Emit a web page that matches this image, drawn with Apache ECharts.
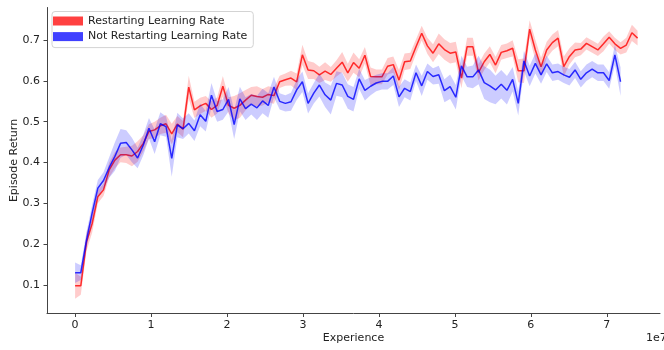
<!DOCTYPE html>
<html><head><meta charset="utf-8">
<script src="https://cdn.jsdelivr.net/npm/echarts@6/dist/echarts.min.js"></script>
<style>html,body{margin:0;padding:0;background:#fff}#c{width:664px;height:350px}</style>
</head><body><div id="c"></div>
<script>
// Experience (units of 1e7)
const experience = [0,0.075,0.150,0.224,0.299,0.374,0.449,0.524,0.598,0.673,
0.748,0.823,0.898,0.972,1.047,1.122,1.197,1.272,1.346,1.421,
1.496,1.571,1.646,1.720,1.795,1.870,1.945,2.020,2.094,2.169,
2.244,2.319,2.394,2.468,2.543,2.618,2.693,2.768,2.842,2.917,
2.992,3.067,3.142,3.216,3.291,3.366,3.441,3.516,3.590,3.665,
3.740,3.815,3.890,3.964,4.039,4.114,4.189,4.264,4.338,4.413,
4.488,4.563,4.638,4.712,4.787,4.862,4.937,5.012,5.086,5.161,
5.236,5.311,5.386,5.460,5.535,5.610,5.685,5.760,5.834,5.909,
5.984,6.059,6.134,6.208,6.283,6.358,6.433,6.508,6.582,6.657,
6.732,6.807,6.882,6.956,7.031,7.106,7.181,7.256,7.330,7.405];

const restartMean = [0.098,0.098,0.205,0.250,0.316,0.333,0.382,0.406,0.419,0.419,
0.416,0.427,0.447,0.476,0.480,0.490,0.495,0.470,0.494,0.482,
0.585,0.529,0.539,0.545,0.530,0.540,0.587,0.540,0.533,0.540,
0.553,0.565,0.562,0.560,0.567,0.564,0.598,0.603,0.607,0.598,
0.664,0.627,0.625,0.615,0.624,0.616,0.631,0.646,0.620,0.645,
0.631,0.663,0.611,0.610,0.610,0.636,0.640,0.602,0.647,0.649,
0.684,0.717,0.686,0.668,0.691,0.677,0.668,0.671,0.607,0.684,
0.684,0.621,0.647,0.665,0.639,0.670,0.674,0.680,0.625,0.625,
0.727,0.676,0.635,0.676,0.694,0.705,0.635,0.660,0.676,0.678,
0.692,0.684,0.676,0.691,0.707,0.691,0.680,0.688,0.718,0.705];

const restartHalf = [0.032,0.022,0.022,0.022,0.016,0.015,0.018,0.020,0.018,0.020,
0.025,0.025,0.020,0.018,0.020,0.020,0.022,0.025,0.020,0.020,
0.028,0.020,0.020,0.018,0.020,0.020,0.025,0.020,0.030,0.030,
0.025,0.020,0.025,0.020,0.020,0.020,0.015,0.015,0.018,0.020,
0.025,0.022,0.020,0.020,0.022,0.018,0.020,0.025,0.022,0.025,
0.022,0.020,0.022,0.018,0.018,0.020,0.020,0.025,0.020,0.020,
0.018,0.018,0.020,0.022,0.025,0.025,0.025,0.025,0.025,0.022,
0.022,0.020,0.020,0.020,0.020,0.018,0.018,0.020,0.028,0.030,
0.022,0.025,0.022,0.020,0.020,0.020,0.025,0.020,0.018,0.015,
0.015,0.015,0.015,0.018,0.015,0.015,0.015,0.018,0.020,0.018];

const noRestartMean = [0.130,0.130,0.210,0.276,0.337,0.356,0.388,0.415,0.447,0.449,
0.431,0.411,0.443,0.484,0.451,0.495,0.488,0.410,0.492,0.483,
0.496,0.478,0.517,0.501,0.565,0.525,0.530,0.555,0.493,0.556,
0.532,0.543,0.534,0.551,0.540,0.585,0.550,0.545,0.549,0.578,
0.598,0.545,0.570,0.590,0.566,0.553,0.594,0.590,0.562,0.555,
0.605,0.577,0.587,0.595,0.599,0.599,0.612,0.561,0.582,0.574,
0.620,0.588,0.623,0.611,0.615,0.576,0.586,0.560,0.637,0.610,
0.610,0.627,0.596,0.588,0.578,0.592,0.577,0.604,0.545,0.649,
0.612,0.643,0.615,0.642,0.620,0.623,0.615,0.609,0.627,0.604,
0.620,0.629,0.620,0.620,0.601,0.664,0.598];

const noRestartHalf = [0.025,0.018,0.020,0.020,0.020,0.020,0.025,0.035,0.035,0.030,
0.030,0.025,0.025,0.025,0.030,0.028,0.025,0.045,0.030,0.025,
0.025,0.025,0.028,0.025,0.030,0.025,0.025,0.030,0.035,0.030,
0.028,0.025,0.030,0.030,0.030,0.025,0.020,0.020,0.022,0.025,
0.025,0.025,0.025,0.028,0.030,0.035,0.030,0.030,0.030,0.030,
0.025,0.025,0.022,0.020,0.020,0.020,0.022,0.025,0.022,0.022,
0.020,0.025,0.020,0.020,0.022,0.028,0.030,0.030,0.025,0.025,
0.028,0.035,0.040,0.040,0.035,0.035,0.035,0.030,0.030,0.025,
0.025,0.025,0.022,0.020,0.020,0.020,0.020,0.020,0.020,0.020,
0.020,0.020,0.020,0.020,0.020,0.025,0.035];

const xTicks = [0,1,2,3,4,5,6,7];
const yTicks = [0.1,0.2,0.3,0.4,0.5,0.6,0.7];
const seriesNames = ['Restarting Learning Rate','Not Restarting Learning Rate'];

const FONT = 'DejaVu Sans';
function pairs(xs, ys){ return ys.map((v,i)=>[xs[i], v]); }
function band(name, xs, mean, half, fill, z){
  return {
    type:'custom', name:name, silent:true, z:z, animation:false,
    data:[[xs[0], mean[0]]],
    renderItem:function(params, api){
      const pts=[];
      for(let i=0;i<mean.length;i++) pts.push(api.coord([xs[i], mean[i]+half[i]]));
      for(let i=mean.length-1;i>=0;i--) pts.push(api.coord([xs[i], mean[i]-half[i]]));
      return {type:'polygon', shape:{points:pts}, style:{fill:fill}};
    }
  };
}

const chart = echarts.init(document.getElementById('c'), null, {renderer:'canvas'});
chart.setOption({
  animation:false,
  backgroundColor:'#fff',
  grid:{left:47, top:7.5, width:613, height:306, containLabel:false, outerBoundsMode:'none'},
  legend:{
    orient:'vertical', left:52, top:11.5, icon:'rect', itemWidth:30, itemHeight:9, itemGap:2.6,
    padding:[3,6,4.5,1], backgroundColor:'#fff', borderColor:'#d3d3d3', borderWidth:1, borderRadius:3,
    textStyle:{fontFamily:FONT, fontSize:11, color:'#222', lineHeight:13},
    data:seriesNames
  },
  xAxis:{
    type:'value', min:-0.37, max:7.7,
    name:'Experience', nameLocation:'middle', nameGap:19, nameMoveOverlap:false,
    nameTextStyle:{fontFamily:FONT, fontSize:11, color:'#222'},
    axisLine:{show:true, onZero:false, lineStyle:{color:'#444', width:1}},
    axisTick:{show:true, length:3.5, customValues:xTicks, lineStyle:{color:'#444'}},
    axisLabel:{customValues:xTicks, margin:6, fontFamily:FONT, fontSize:11, color:'#222', formatter:v=>String(v)},
    splitLine:{show:false}
  },
  yAxis:{
    type:'value', min:0.03, max:0.78,
    name:'Episode Return', nameLocation:'middle', nameGap:27, nameMoveOverlap:false,
    nameTextStyle:{fontFamily:FONT, fontSize:11, color:'#222'},
    axisLine:{show:true, onZero:false, lineStyle:{color:'#444', width:1}},
    axisTick:{show:true, length:3.5, customValues:yTicks, lineStyle:{color:'#444'}},
    axisLabel:{customValues:yTicks, margin:7, fontFamily:FONT, fontSize:11, color:'#222', formatter:v=>v.toFixed(1)},
    splitLine:{show:false}
  },
  graphic:[{type:'text', left:646, top:333, style:{text:'1e7', font:'11px "DejaVu Sans"', fill:'#222'}}],
  series:[
    band('band-restart', experience, restartMean, restartHalf, 'rgba(255,0,0,0.2)', 1),
    {type:'line', name:seriesNames[0], z:2, data:pairs(experience, restartMean), showSymbol:false,
     color:'rgba(255,30,30,0.85)', lineStyle:{width:1.5, color:'rgba(255,0,0,0.8)'}},
    band('band-norestart', experience, noRestartMean, noRestartHalf, 'rgba(0,0,255,0.2)', 3),
    {type:'line', name:seriesNames[1], z:4, data:pairs(experience, noRestartMean), showSymbol:false,
     color:'rgba(30,30,255,0.85)', lineStyle:{width:1.5, color:'rgba(0,0,255,0.8)'}}
  ]
});
</script></body></html>
